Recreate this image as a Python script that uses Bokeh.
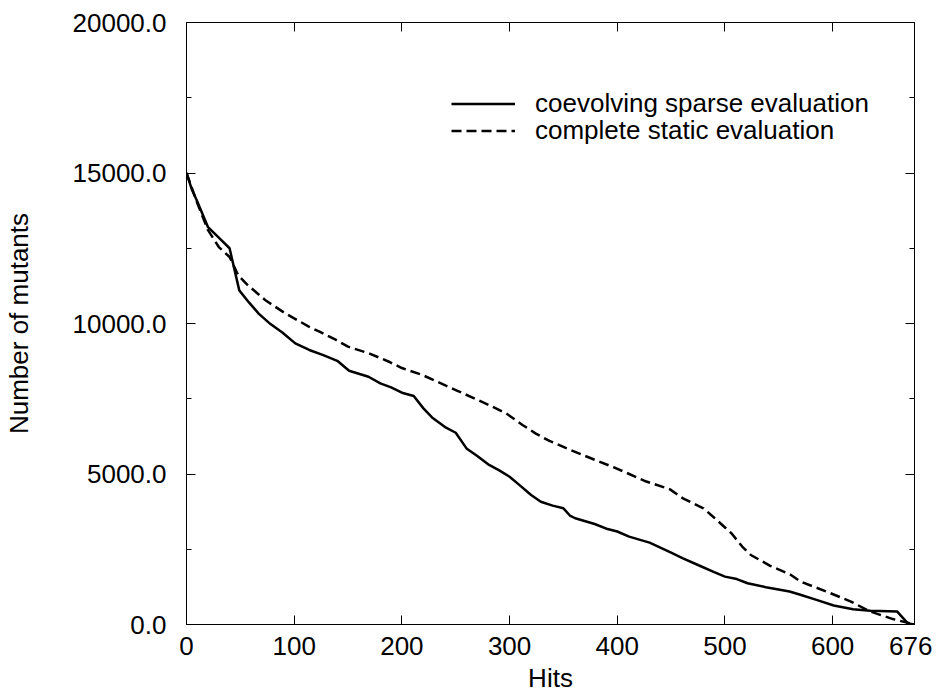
from bokeh.plotting import figure
from bokeh.models import (FixedTicker, PrintfTickFormatter, LinearAxis, Legend, LegendItem,
                          CustomJSTickFormatter)
from bokeh.embed import file_html
from bokeh.resources import INLINE

# ---- data ----
x_ticks = [0, 100, 200, 300, 400, 500, 600, 676]
y_major = [0, 5000, 10000, 15000, 20000]
y_minor = [2500, 7500, 12500, 17500]

sparse_hits = [0, 5, 10, 20, 30, 40, 49, 58, 67, 78, 89, 101, 114, 127, 140, 151,
               169, 180, 190, 200, 211, 220, 228, 241, 250, 260, 270, 281, 290, 300,
               309, 320, 329, 340, 350, 356, 361, 379, 391, 400, 411, 430, 441, 450,
               461, 476, 490, 500, 511, 521, 538, 560, 570, 585, 601, 619, 635, 660,
               670, 676]
sparse_mut = [15000, 14450, 14050, 13200, 12850, 12500, 11100, 10700, 10330, 9980,
              9700, 9340, 9120, 8950, 8760, 8430, 8230, 8010, 7880, 7700, 7590, 7180,
              6880, 6540, 6370, 5850, 5600, 5300, 5130, 4910, 4640, 4300, 4080, 3950,
              3860, 3620, 3530, 3340, 3170, 3090, 2920, 2720, 2540, 2390, 2200, 1960,
              1740, 1590, 1510, 1370, 1240, 1095, 990, 820, 630, 510, 455, 430, 30, 0]

static_hits = [0, 10, 20, 30, 40, 48, 57, 73, 92, 114, 124, 138, 150, 170, 188, 200,
               219, 250, 281, 297, 312, 324, 337, 355, 368, 399, 427, 449, 461, 480,
               489, 506, 516, 524, 542, 561, 570, 598, 617, 635, 656, 676]
static_mut = [15000, 14000, 13100, 12540, 12210, 11600, 11270, 10780, 10330, 9890,
              9720, 9470, 9230, 9000, 8730, 8520, 8290, 7790, 7290, 7010, 6630, 6350,
              6100, 5820, 5630, 5190, 4750, 4490, 4190, 3860, 3580, 3030, 2590, 2310,
              1950, 1650, 1430, 1040, 760, 430, 180, 0]

series_labels = ["coevolving sparse evaluation", "complete static evaluation"]

FONT = "Liberation Sans"
FS = "26px"

p = figure(frame_width=728, frame_height=602, x_range=(0, 676), y_range=(0, 20000),
           output_backend="svg", toolbar_location=None,
           min_border_left=184, min_border_top=22, min_border_right=18,
           min_border_bottom=60, x_axis_location=None, y_axis_location=None)
p.grid.visible = False
p.outline_line_color = "black"
p.outline_line_width = 1
p.background_fill_color = "white"
p.border_fill_color = "white"

blank = CustomJSTickFormatter(code="return ''")

def style_axis(ax, labels=True):
    ax.axis_line_color = "black"
    ax.axis_line_width = 1
    ax.major_tick_line_color = "black"
    ax.minor_tick_line_color = "black"
    ax.major_tick_in = 9
    ax.major_tick_out = 0
    ax.minor_tick_in = 5
    ax.minor_tick_out = 0
    ax.major_label_text_font = FONT
    ax.major_label_text_color = "black"
    ax.major_label_text_font_size = FS
    ax.axis_label_text_font = FONT
    ax.axis_label_text_font_size = FS
    ax.axis_label_text_font_style = "normal"
    ax.axis_label_text_color = "black"
    if not labels:
        ax.formatter = blank
        ax.major_label_standoff = 0

xb = LinearAxis(ticker=FixedTicker(ticks=x_ticks, minor_ticks=[]), axis_label="Hits")
style_axis(xb)
xb.major_label_standoff = 12
xb.axis_label_standoff = 5
p.add_layout(xb, "below")

xt = LinearAxis(ticker=FixedTicker(ticks=x_ticks, minor_ticks=[]))
style_axis(xt, labels=False)
p.add_layout(xt, "above")

yl = LinearAxis(ticker=FixedTicker(ticks=y_major, minor_ticks=y_minor),
                formatter=PrintfTickFormatter(format="%.1f"),
                axis_label="Number of mutants")
style_axis(yl)
yl.major_label_standoff = 20
yl.axis_label_standoff = 36
p.add_layout(yl, "left")

yr = LinearAxis(ticker=FixedTicker(ticks=y_major, minor_ticks=y_minor))
style_axis(yr, labels=False)
p.add_layout(yr, "right")

r1 = p.line(sparse_hits, sparse_mut, line_color="black", line_width=2.5)
r2 = p.line(static_hits, static_mut, line_color="black", line_width=2.5, line_dash="10 5")

common = dict(glyph_width=64, glyph_height=27, label_height=27, label_standoff=20,
              spacing=0, padding=0, margin=0, border_line_color=None,
              background_fill_alpha=0, label_text_font=FONT, label_text_font_size=FS,
              label_text_color="black")
leg1 = Legend(items=[LegendItem(label=series_labels[0], renderers=[r1])],
              location=(265, 505), **common)
leg2 = Legend(items=[LegendItem(label=series_labels[1], renderers=[r2])],
              location=(265, 478), **common)
p.add_layout(leg1, "center")
p.add_layout(leg2, "center")

open("out.html", "w").write(file_html(p, INLINE))
